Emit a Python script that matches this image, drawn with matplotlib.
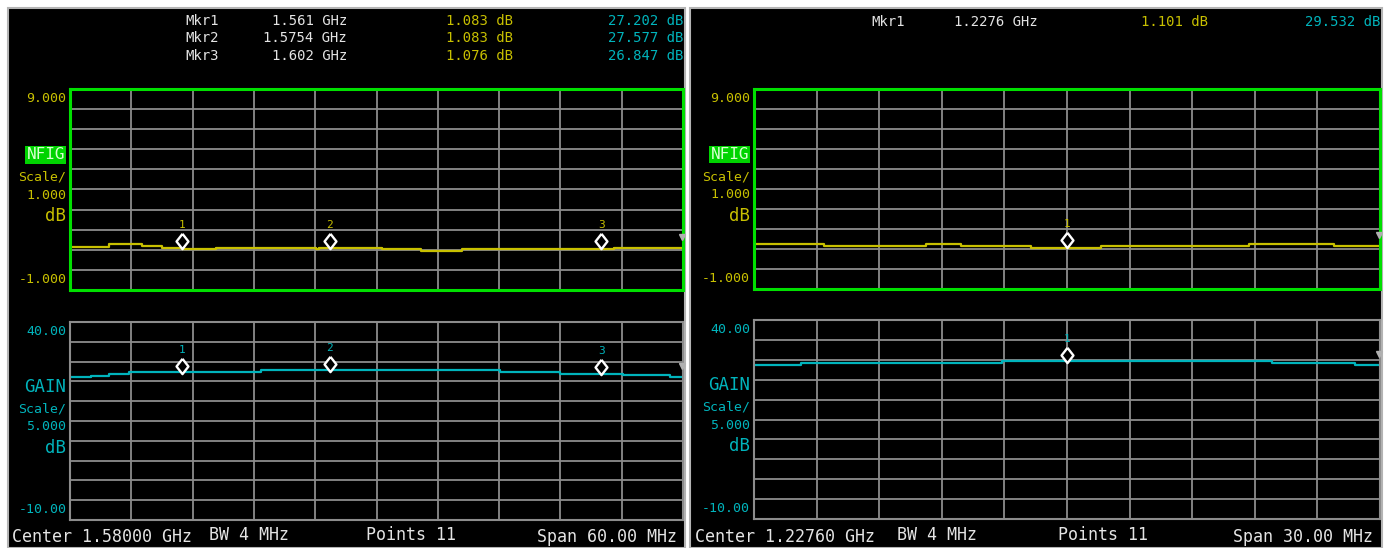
import numpy as np
import matplotlib.pyplot as plt
from matplotlib.patches import Rectangle
from matplotlib.transforms import offset_copy

plt.rcParams['font.family'] = ['DejaVu Sans Mono']

# --- left screen (1.55 - 1.61 GHz) ---
left_start_ghz = 1.550
left_span_mhz = 60
nf_left_mhz = [0, 3.85, 7.04, 8.96, 10.97, 14.33, 24.03, 24.4, 30.5, 34.4, 38.4, 53.2, 60]
nf_left_db = [1.16, 1.28, 1.20, 1.11, 1.03, 1.10, 1.03, 1.10, 1.03, 0.96, 1.03, 1.10]
gain_left_mhz = [0, 2.1, 3.85, 5.81, 18.7, 42.1, 48.0, 54.1, 58.7, 60]
gain_left_db = [26.0, 26.4, 26.9, 27.35, 27.77, 27.27, 26.85, 26.5, 26.1]
mkr_left_ghz = [1.561, 1.5754, 1.602]
mkr_left_freq_txt = ["1.561 GHz", "1.5754 GHz", "1.602 GHz"]
mkr_left_nf = [1.083, 1.083, 1.076]
mkr_left_gain = [27.202, 27.577, 26.847]

# --- right screen (1.2126 - 1.2426 GHz) ---
right_start_ghz = 1.2126
right_span_mhz = 30
nf_right_mhz = [0, 3.37, 8.26, 9.91, 13.27, 16.62, 23.74, 27.81, 30]
nf_right_db = [1.24, 1.14, 1.26, 1.16, 1.07, 1.16, 1.26, 1.17]
gain_right_mhz = [0, 2.25, 11.88, 24.81, 28.82, 30]
gain_right_db = [28.71, 29.21, 29.63, 29.21, 28.71]
mkr_right_ghz = [1.2276]
mkr_right_freq_txt = ["1.2276 GHz"]
mkr_right_nf = [1.101]
mkr_right_gain = [29.532]

YEL = '#c8c000'
CYN = '#00b4bc'
WHT = '#e4e4e4'
GRID = '#8c8c8c'

# diamond shaped marker, a bit wider than matplotlib's 'd'
DIAMOND = [(0, 1), (0.78, 0), (0, -1), (-0.78, 0), (0, 1)]

W, H = 1392, 548
fig = plt.figure(figsize=(W / 100, H / 100), dpi=100, facecolor='white')


def rect(x0, y0, x1, y1):
    return [x0 / W, 1 - y1 / H, (x1 - x0) / W, (y1 - y0) / H]


def ftext(x, y, s, **kw):
    fig.text(x / W, 1 - y / H, s, va='center', **kw)


def trace_axes(box, ylo, yhi, start, span, edges, levels, mk_f, mk_v,
               color, frame, name, scale, lo_txt, hi_txt, boxed):
    ax = fig.add_axes(rect(*box), facecolor='black')
    stop = start + span / 1000
    ax.set_xlim(start, stop)
    ax.set_ylim(ylo, yhi)
    ax.set_xticks(np.linspace(start, stop, 11))
    ax.set_yticks(np.linspace(ylo, yhi, 11))
    ax.grid(True, color=GRID, lw=1.3)
    ax.tick_params(length=0, labelbottom=False, labelleft=False)
    for s in ax.spines.values():
        s.set_color(frame)
        s.set_linewidth(2.2 if frame != GRID else 1.5)
        s.set_zorder(5)

    x = start + np.array(edges) / 1000
    y = levels + [levels[-1]]
    ax.plot(x, y, drawstyle='steps-post', color=color, lw=1.6, zorder=3)

    # reference level notch on the right edge
    notch = offset_copy(ax.transData, fig=fig, x=-1, y=11, units='dots')
    ax.plot([stop], [levels[-1]], marker='v', ms=4, color='#b0b0b0',
            transform=notch, clip_on=False, zorder=6)

    up = offset_copy(ax.transData, fig=fig, x=0, y=7, units='dots')
    up2 = offset_copy(ax.transData, fig=fig, x=0, y=23, units='dots')
    for i, (f, v) in enumerate(zip(mk_f, mk_v)):
        ax.plot([f], [v], marker=DIAMOND, ms=11, mfc='black', mec='white',
                mew=1.7, transform=up, zorder=4, clip_on=False)
        ax.text(f, v, str(i + 1), transform=up2, color=color, fontsize=8,
                ha='center', va='center', zorder=4)

    tr = ax.transAxes
    ax.text(-0.006, 0.985, hi_txt, transform=tr, ha='right', va='top',
            color=color, fontsize=9.5)
    ax.text(-0.006, 0.02, lo_txt, transform=tr, ha='right', va='bottom',
            color=color, fontsize=9.5)
    if boxed:
        ax.text(-0.008, 0.672, name, transform=tr, ha='right', va='center',
                color='#d8ffd0', fontsize=11.5,
                bbox=dict(boxstyle='square,pad=0.08', fc='#00d400', ec='none'))
    else:
        ax.text(-0.006, 0.672, name, transform=tr, ha='right', va='center',
                color=color, fontsize=12.5)
    ax.text(-0.006, 0.562, 'Scale/', transform=tr, ha='right', va='center',
            color=color, fontsize=9.5)
    ax.text(-0.006, 0.472, scale, transform=tr, ha='right', va='center',
            color=color, fontsize=9.5)
    ax.text(-0.006, 0.366, 'dB', transform=tr, ha='right', va='center',
            color=color, fontsize=12.5)
    return ax


# black instrument screens
for x0, x1 in [(8, 685), (690, 1382)]:
    fig.add_artist(Rectangle((x0 / W, 0), (x1 - x0) / W, (H - 8) / H,
                             transform=fig.transFigure, fc='black',
                             ec='#b4b4b4', lw=1.5, zorder=-1))

# left screen
trace_axes((70, 89, 683, 290), -1, 9, left_start_ghz, left_span_mhz,
           nf_left_mhz, nf_left_db, mkr_left_ghz, mkr_left_nf,
           YEL, '#00e000', 'NFIG', '1.000', '-1.000', '9.000', True)
trace_axes((70, 322, 683, 520), -10, 40, left_start_ghz, left_span_mhz,
           gain_left_mhz, gain_left_db, mkr_left_ghz, mkr_left_gain,
           CYN, GRID, 'GAIN', '5.000', '-10.00', '40.00', False)

for i, (ft, nf, g) in enumerate(zip(mkr_left_freq_txt, mkr_left_nf, mkr_left_gain)):
    yy = 21 + i * 17.5
    ftext(185, yy, f"Mkr{i + 1}", color=WHT, fontsize=10, ha='left')
    ftext(347, yy, ft, color=WHT, fontsize=10, ha='right')
    ftext(513, yy, f"{nf:.3f} dB", color=YEL, fontsize=10, ha='right')
    ftext(683, yy, f"{g:.3f} dB", color=CYN, fontsize=10, ha='right')

ftext(12, 537, "Center 1.58000 GHz", color=WHT, fontsize=12, ha='left')
ftext(209, 535, "BW 4 MHz", color=WHT, fontsize=12, ha='left')
ftext(366, 535, "Points 11", color=WHT, fontsize=12, ha='left')
ftext(677, 537, f"Span {left_span_mhz:.2f} MHz", color=WHT, fontsize=12, ha='right')

# right screen
trace_axes((754, 89, 1380, 289), -1, 9, right_start_ghz, right_span_mhz,
           nf_right_mhz, nf_right_db, mkr_right_ghz, mkr_right_nf,
           YEL, '#00e000', 'NFIG', '1.000', '-1.000', '9.000', True)
trace_axes((754, 320, 1380, 519), -10, 40, right_start_ghz, right_span_mhz,
           gain_right_mhz, gain_right_db, mkr_right_ghz, mkr_right_gain,
           CYN, GRID, 'GAIN', '5.000', '-10.00', '40.00', False)

for i, (ft, nf, g) in enumerate(zip(mkr_right_freq_txt, mkr_right_nf, mkr_right_gain)):
    yy = 22
    ftext(871, yy, f"Mkr{i + 1}", color=WHT, fontsize=10, ha='left')
    ftext(1038, yy, ft, color=WHT, fontsize=10, ha='right')
    ftext(1208, yy, f"{nf:.3f} dB", color=YEL, fontsize=10, ha='right')
    ftext(1380, yy, f"{g:.3f} dB", color=CYN, fontsize=10, ha='right')

ftext(695, 537, "Center 1.22760 GHz", color=WHT, fontsize=12, ha='left')
ftext(897, 535, "BW 4 MHz", color=WHT, fontsize=12, ha='left')
ftext(1058, 535, "Points 11", color=WHT, fontsize=12, ha='left')
ftext(1373, 537, f"Span {right_span_mhz:.2f} MHz", color=WHT, fontsize=12, ha='right')

fig.savefig('out.png', dpi=100, facecolor=fig.get_facecolor())
